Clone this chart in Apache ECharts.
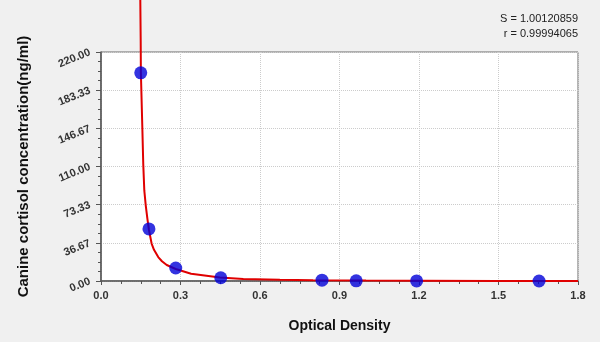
<!DOCTYPE html>
<html>
<head>
<meta charset="utf-8">
<script src="https://cdn.jsdelivr.net/npm/echarts@6/dist/echarts.min.js"></script>
<style>html,body{margin:0;padding:0;background:#f0f0f0;}#c{width:600px;height:342px;}</style>
</head>
<body>
<div id="c"></div>
<script>
var stdOD = [0.150, 0.181, 0.282, 0.452, 0.834, 0.963, 1.191, 1.653];
var stdConc = [200, 50, 12.5, 3.125, 0.78, 0.195, 0.05, 0];
var curveOD = [0.1483, 0.1498, 0.1505, 0.1560, 0.1595, 0.1634, 0.1687, 0.1750, 0.1810, 0.1910, 0.2000, 0.2160, 0.2300, 0.2480, 0.2820, 0.3400, 0.4490, 0.5370, 0.6750, 0.8000, 1.0000, 1.2000, 1.5000, 1.8000];
var curveConc = [270, 231, 200, 147, 112, 87, 73, 60, 49, 36, 30, 23, 19, 15.4, 11.5, 7.0, 3.4, 2.0, 1.2, 0.8, 0.4, 0.25, 0.12, 0.05];
var yTicks = ['0.00','36.67','73.33','110.00','146.67','183.33','220.00'];
var xTicks = ['0.0','0.3','0.6','0.9','1.2','1.5','1.8'];
var statS = 'S = 1.00120859';
var statR = 'r = 0.99994065';

var chart = echarts.init(document.getElementById('c'), null, {renderer:'canvas'});
var curve = curveOD.map(function(x,i){return [x, curveConc[i]];});
var pts = stdOD.map(function(x,i){return [x, stdConc[i]];});
chart.setOption({
  backgroundColor:'#f0f0f0',
  animation:false,
  textStyle:{fontFamily:'Liberation Sans, Arial, sans-serif'},
  title:[
    {text:statS, right:22, top:13, padding:0, textStyle:{fontSize:11, fontWeight:'normal', color:'#222'}},
    {text:statR, right:22, top:28, padding:0, textStyle:{fontSize:11, fontWeight:'normal', color:'#222'}}
  ],
  grid:{left:101, right:22, top:52, bottom:61, show:true, backgroundColor:'#ffffff', borderColor:'#6a6a6a', borderWidth:1},
  xAxis:{
    type:'value', min:0, max:1.8, interval:0.3,
    name:'Optical Density', nameLocation:'middle', nameGap:38,
    nameTextStyle:{fontSize:14, fontWeight:'bold', color:'#111'},
    axisLine:{lineStyle:{color:'#555', width:1.5}},
    axisTick:{show:true, length:4, lineStyle:{color:'#555'}},
    minorTick:{show:true, splitNumber:4, length:3, lineStyle:{color:'#555'}},
    axisLabel:{fontSize:11, fontWeight:'bold', color:'#333', margin:9, formatter:function(v){var i=Math.round(v/0.3);return xTicks[i]!==undefined?xTicks[i]:'';}},
    splitLine:{show:true, lineStyle:{color:'#cccccc', type:'dotted'}}
  },
  yAxis:{
    type:'value', min:0, max:220, interval:220/6,
    name:'Canine cortisol concentration(ng/ml)', nameLocation:'middle', nameGap:70,
    nameTextStyle:{fontSize:15, fontWeight:'bold', color:'#111'},
    axisLine:{show:true, lineStyle:{color:'#555', width:1.5}},
    axisTick:{show:true, length:5, lineStyle:{color:'#555'}},
    minorTick:{show:true, splitNumber:4, length:3, lineStyle:{color:'#555'}},
    axisLabel:{fontSize:11, fontWeight:'bold', color:'#333', rotate:22, margin:11, formatter:function(v){var i=Math.round(v/(220/6));return yTicks[i]!==undefined?yTicks[i]:'';}},
    splitLine:{show:true, lineStyle:{color:'#cccccc', type:'dotted'}}
  },
  series:[
    {type:'line', data:curve, smooth:false, showSymbol:false, clip:false, lineStyle:{color:'#e00000', width:2}, z:2},
    {type:'scatter', data:pts, symbolSize:13, itemStyle:{color:'#0000d8'}, z:3}
  ]
});
</script>
</body>
</html>
